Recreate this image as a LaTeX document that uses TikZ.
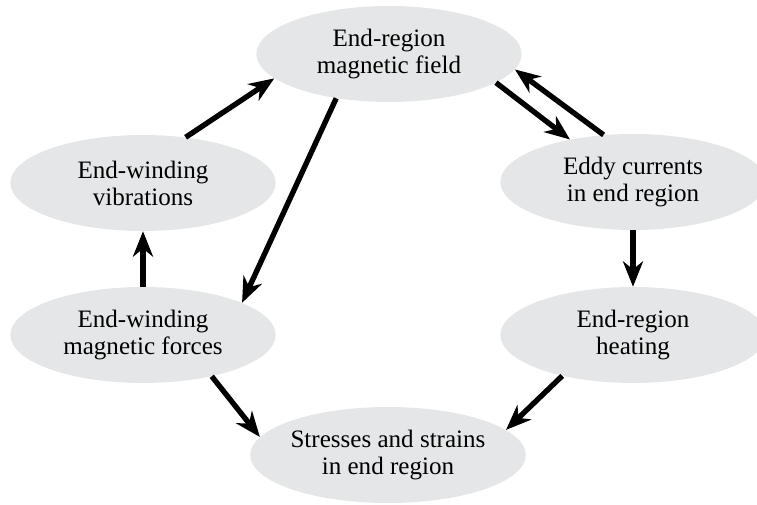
\documentclass[tikz,border=0pt]{standalone}
\usepackage{fontspec}
\setmainfont{Liberation Serif}
\usepackage{tikz}
\usetikzlibrary{arrows.meta,shapes.geometric}
\definecolor{bubblegray}{RGB}{229,230,231}
\tikzset{
  bubble/.style={ellipse, fill=bubblegray, inner sep=0pt, align=center,
    minimum width=199pt, minimum height=72pt,
    font=\fontsize{18.8}{20.3}\selectfont},
  flow/.style={line width=4pt, -{Stealth[length=19pt,width=15pt,inset=6pt]}}
}

\begin{document}
\begin{tikzpicture}[x=0.75pt,y=-0.75pt]
  \useasboundingbox (0,0) rectangle (757,505);
  % the six ellipses
  \node[bubble] (field) at (389,54) {End-region\\magnetic field};
  \node[bubble] (vib) at (143,183) {End-winding\\vibrations};
  \node[bubble] (forces) at (143,335) {End-winding\\magnetic forces};
  \node[bubble] (eddy) at (633,182) {Eddy currents\\in end region};
  \node[bubble] (heat) at (633,335) {End-region\\heating};
  \node[bubble] (stress) at (388,455) {Stresses and strains\\in end region};
  % arrows between them
  \draw[flow] (vib.47) -- (field.192);
  \draw[flow] (field.220) -- (forces.18);
  \draw[flow] (field.-15) -- (eddy.146);
  \draw[flow] (eddy.122) -- (field.-7);
  \draw[flow] (forces.north) -- (vib.south);
  \draw[flow] (eddy.south) -- (heat.north);
  \draw[flow] (forces.-31) -- (stress.172);
  \draw[flow] (heat.210) -- (stress.12);
\end{tikzpicture}
\end{document}
